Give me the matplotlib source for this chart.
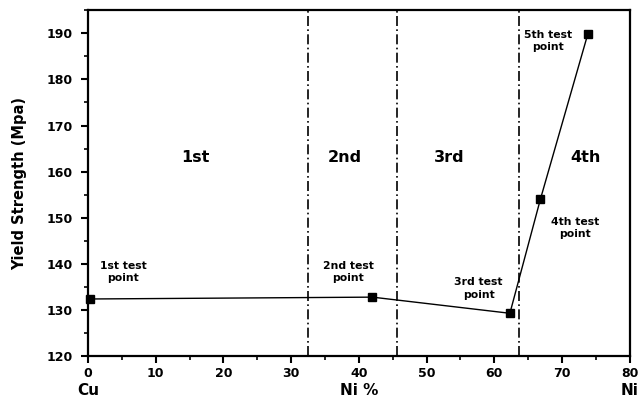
import matplotlib.pyplot as plt
from matplotlib.ticker import MultipleLocator

plt.rcParams['font.family'] = ['DejaVu Sans']
plt.rcParams['font.weight'] = 'bold'

# test points: Ni content (%) vs yield strength (MPa)
ni_pct = [0.3, 42.0, 62.3, 66.8, 73.8]
yield_mpa = [132.4, 132.8, 129.3, 154.0, 189.8]
point_names = ['1st test\npoint', '2nd test\npoint', '3rd test\npoint',
               '4th test\npoint', '5th test\npoint']
label_pos = [(5.2, 138.2), (38.4, 138.2), (57.7, 134.7), (71.9, 147.8), (68.0, 188.3)]

# region boundaries and region names
bounds = [32.5, 45.7, 63.7]
regions = ['1st', '2nd', '3rd', '4th']
region_x = [15.8, 37.9, 53.3, 73.4]

fig = plt.figure(figsize=(6.4, 4.08), dpi=100)
ax = fig.add_axes([0.1375, 0.127, 0.8465, 0.848])

ax.plot(ni_pct, yield_mpa, color='black', linewidth=1.0, marker='s',
        markersize=6, markerfacecolor='black', clip_on=False, zorder=3)

for b in bounds:
    ax.axvline(b, color='black', linewidth=1.2, linestyle='-.', dashes=(6, 2, 1, 2))

for name, x in zip(regions, region_x):
    ax.text(x, 163, name, ha='center', va='center', fontsize=11.5, fontweight='bold')

for name, (x, y) in zip(point_names, label_pos):
    ax.text(x, y, name, ha='center', va='center', fontsize=7.8, fontweight='bold',
            linespacing=1.3)

ax.set_xlim(0, 80)
ax.set_ylim(120, 195)
ax.xaxis.set_major_locator(MultipleLocator(10))
ax.xaxis.set_minor_locator(MultipleLocator(5))
ax.yaxis.set_major_locator(MultipleLocator(10))
ax.yaxis.set_minor_locator(MultipleLocator(5))
ax.set_yticks(range(120, 191, 10))
ax.tick_params(which='major', direction='out', length=5, width=1.5, labelsize=9, pad=3)
ax.tick_params(axis='y', which='major', pad=6)
ax.tick_params(which='minor', direction='out', length=3, width=1.2)
for lbl in ax.get_xticklabels() + ax.get_yticklabels():
    lbl.set_fontweight('bold')
for sp in ax.spines.values():
    sp.set_linewidth(1.6)

ax.set_ylabel('Yield Strength (Mpa)', fontsize=10.5, fontweight='bold', labelpad=14)

# composition labels under the x axis
ax.text(0, -0.10, 'Cu', transform=ax.get_xaxis_transform(), ha='center', va='center',
        fontsize=11, fontweight='bold')
ax.text(40, -0.10, 'Ni %', transform=ax.get_xaxis_transform(), ha='center', va='center',
        fontsize=11, fontweight='bold')
ax.text(80, -0.10, 'Ni', transform=ax.get_xaxis_transform(), ha='center', va='center',
        fontsize=11, fontweight='bold')

fig.savefig('out.png', dpi=100)
